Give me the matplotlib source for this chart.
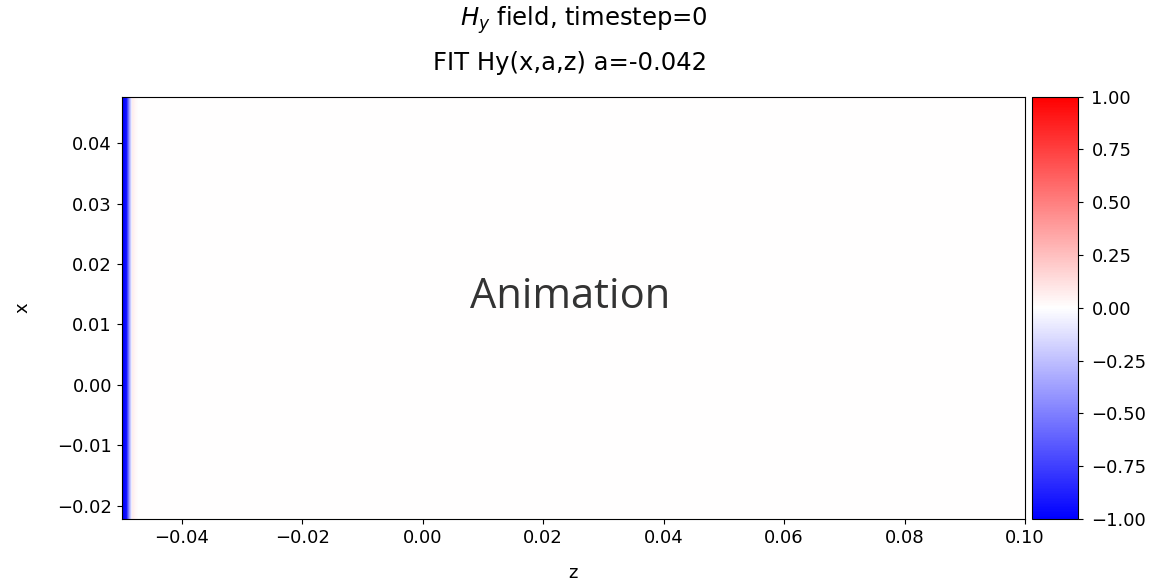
import numpy as np
import matplotlib
matplotlib.use("Agg")
import matplotlib.pyplot as plt

# Domain of the field map
z_min, z_max = -0.05, 0.10
x_min, x_max = -0.0222, 0.0477
dz = 0.0005

# Hy profile along z near the injection boundary (rest of the domain is zero)
edge_profile = [-1.0, -0.92, -0.35, 0.07, 0.03]
n_rows = 140

timestep = 0
a_value = -0.042

n_cols = int(round((z_max - z_min) / dz))
field = np.zeros((n_rows, n_cols))
field[:, :len(edge_profile)] = edge_profile

plt.rcParams["xtick.labelsize"] = 13
plt.rcParams["ytick.labelsize"] = 13
plt.rcParams["axes.labelsize"] = 13

W, H = 1158, 582
fig = plt.figure(figsize=(W / 100, H / 100), dpi=100)

left, right, top, bottom = 121.7, 1025.0, 96.7, 519.0
ax = fig.add_axes([left / W, 1 - bottom / H, (right - left) / W, (bottom - top) / H])
cax = fig.add_axes([1031.7 / W, 1 - bottom / H, (1078.3 - 1031.7) / W, (bottom - top) / H])

im = ax.imshow(field, cmap="bwr", vmin=-1, vmax=1, origin="lower",
               extent=[z_min, z_max, x_min, x_max], aspect="auto",
               interpolation="bilinear")
ax.set_xlabel("z")
ax.set_ylabel("x")
ax.xaxis.set_label_coords(0.5, -0.107)
ax.yaxis.set_label_coords(-0.1, 0.5)
ax.set_xticks(np.arange(-0.04, 0.1001, 0.02))
ax.set_yticks(np.arange(-0.02, 0.0401, 0.01))

cb = fig.colorbar(im, cax=cax)
cb.set_ticks(np.arange(-1.0, 1.001, 0.25))
cb.ax.tick_params(labelsize=13, pad=6)

fig.text(584 / W, 1 - 26 / H, rf"$H_y$ field, timestep={timestep}",
         ha="center", va="baseline", fontsize=17.5)
fig.text(570 / W, 1 - 70 / H, f"FIT Hy(x,a,z) a={a_value}",
         ha="center", va="baseline", fontsize=17.5)

fig.text(570 / W, 1 - 308 / H, "Animation", ha="center", va="baseline",
         fontsize=30, color="#333333", family=["Open Sans", "DejaVu Sans"])

fig.savefig("out.png", dpi=100)
